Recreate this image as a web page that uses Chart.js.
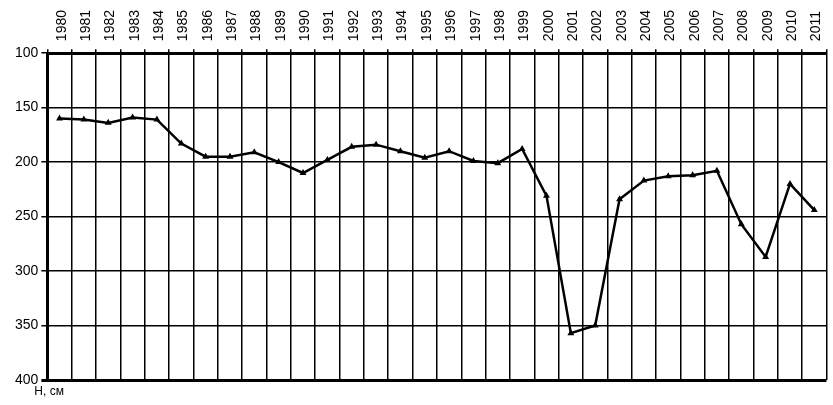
<!DOCTYPE html>
<html>
<head>
<meta charset="utf-8">
<script src="https://cdn.jsdelivr.net/npm/chart.js@4"></script>
<style>
  html, body { margin: 0; padding: 0; background: #fff; }
  #wrap { width: 833px; height: 405px; }
</style>
</head>
<body>
<div id="wrap"><canvas id="chart"></canvas></div>
<script>
const years = ["1980", "1981", "1982", "1983", "1984", "1985", "1986", "1987", "1988", "1989",
    "1990", "1991", "1992", "1993", "1994", "1995", "1996", "1997", "1998", "1999",
    "2000", "2001", "2002", "2003", "2004", "2005", "2006", "2007", "2008", "2009",
    "2010", "2011"];
const depth = [160, 161, 164, 159, 161, 183, 195, 195, 191, 200,
    210, 198, 186, 184, 190, 196, 190, 199, 201, 188,
    231, 357, 350, 234, 217, 213, 212, 208, 257, 287,
    220, 244];
const unitLabel = "H, см";

// small caption under the y axis
const unitPlugin = {
    id: "unitLabel",
    afterDraw(chart) {
        const ctx = chart.ctx;
        const area = chart.chartArea;
        ctx.save();
        ctx.fillStyle = "#000";
        ctx.font = "12px 'Liberation Sans', Arial, sans-serif";
        ctx.textAlign = "left";
        ctx.textBaseline = "top";
        ctx.fillText(unitLabel, area.left - 13, area.bottom + 6);
        ctx.restore();
    }
};

new Chart(document.getElementById("chart"), {
    type: "line",
    data: {
        labels: years,
        datasets: [{
            data: depth,
            borderColor: "#000",
            backgroundColor: "#000",
            borderWidth: 2.5,
            pointStyle: "triangle",
            pointRadius: 1.5,
            tension: 0,
            fill: false
        }]
    },
    options: {
        responsive: true,
        maintainAspectRatio: false,
        animation: false,
        layout: { padding: { top: 2, right: 6, bottom: 25, left: 12 } },
        plugins: {
            legend: { display: false },
            tooltip: { enabled: false }
        },
        scales: {
            x: {
                position: "top",
                offset: true,
                grid: {
                    offset: true,
                    color: (c) => c.index === years.length ? "rgba(0,0,0,0)" : "#000",
                    lineWidth: 1.5,
                    tickLength: 4,
                    tickColor: "#000"
                },
                border: { display: true, color: "#000", width: 3 },
                ticks: {
                    color: "#000",
                    font: { family: "'Liberation Sans', Arial, sans-serif", size: 14 },
                    minRotation: 90,
                    maxRotation: 90,
                    autoSkip: false,
                    labelOffset: 19,
                    padding: 8
                }
            },
            y: {
                reverse: true,
                min: 100,
                max: 400,
                grid: {
                    color: "#000",
                    lineWidth: (c) => c.tick && c.tick.value === 400 ? 3 : 1.5,
                    tickLength: 6,
                    tickColor: "#000"
                },
                border: { display: true, color: "#000", width: 3 },
                ticks: {
                    stepSize: 50,
                    color: "#000",
                    font: { family: "'Liberation Sans', Arial, sans-serif", size: 14 },
                    padding: 3
                }
            }
        }
    },
    plugins: [unitPlugin]
});
</script>
</body>
</html>
